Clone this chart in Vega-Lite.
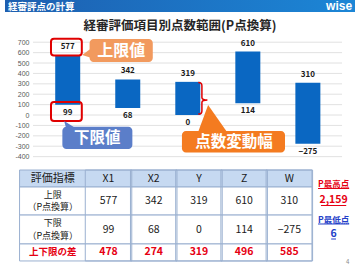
{
  "$schema": "https://vega.github.io/schema/vega-lite/v6.json",
  "width": 360,
  "height": 270,
  "autosize": "none",
  "padding": 0,
  "background": "white",
  "config": {"view": {"stroke": null}, "font": "Noto Sans CJK JP"},
  "datasets": {
    "評点": [
      {"項目": "X1", "番号": 1, "上限": 577, "下限": 99, "差": 478},
      {"項目": "X2", "番号": 2, "上限": 342, "下限": 68, "差": 274},
      {"項目": "Y", "番号": 3, "上限": 319, "下限": 0, "差": 319},
      {"項目": "Z", "番号": 4, "上限": 610, "下限": 114, "差": 496},
      {"項目": "W", "番号": 5, "上限": 310, "下限": -275, "差": 585}
    ],
    "目盛": [
      {"値": -400}, {"値": -300}, {"値": -200}, {"値": -100}, {"値": 0}, {"値": 100},
      {"値": 200}, {"値": 300}, {"値": 400}, {"値": 500}, {"値": 600}, {"値": 700}
    ]
  },
  "data": {"values": [{}]},
  "layer": [
    {
      "data": {"name": "目盛"},
      "mark": {"type": "rule", "color": "#d9d9d9", "strokeWidth": 0.8},
      "encoding": {
        "x": {"datum": 0.49, "scale": {"domain": [-0.0445, 5.785], "nice": false}, "axis": null},
        "x2": {"datum": 5.494},
        "y": {"field": "値", "type": "quantitative", "scale": {"domain": [-1490, 1106], "nice": false},
          "axis": {"values": [-400, -300, -200, -100, 0, 100, 200, 300, 400, 500, 600, 700], "offset": -30, "domain": false, "ticks": false, "grid": false, "labelOverlap": false, "labelFont": "Liberation Sans", "labelFontSize": 7, "labelColor": "#595959", "labelPadding": 1, "title": null, "labelExpr": "datum.value < 0 ? '-' + abs(datum.value) : '' + datum.value"}}
      }
    },
    {
      "layer": [
        {
          "data": {"name": "評点"},
          "mark": {"type": "bar", "width": 25, "color": "#0a67c2"},
          "encoding": {
            "x": {"field": "番号", "type": "quantitative", "scale": {"domain": [-0.0445, 5.785], "nice": false}, "axis": null},
            "y": {"field": "上限", "type": "quantitative", "scale": {"domain": [-1490, 1106], "nice": false}, "axis": null},
            "y2": {"field": "下限"}
          }
        },
        {
          "data": {"name": "評点"},
          "mark": {"type": "text", "dy": -8, "fontSize": 8, "fontWeight": "bold", "color": "#1a1a1a", "baseline": "middle"},
          "encoding": {
            "x": {"field": "番号", "type": "quantitative", "axis": null},
            "y": {"field": "上限", "type": "quantitative", "axis": null},
            "text": {"field": "上限", "type": "quantitative"}
          }
        },
        {
          "data": {"name": "評点"},
          "mark": {"type": "text", "dy": 8, "fontSize": 8, "fontWeight": "bold", "color": "#1a1a1a", "baseline": "middle"},
          "encoding": {
            "x": {"field": "番号", "type": "quantitative", "axis": null},
            "y": {"field": "下限", "type": "quantitative", "axis": null},
            "text": {"field": "下限", "type": "quantitative"}
          }
        },
        {
          "mark": {"type": "rect", "fill": {"gradient": "linear", "x1": 0, "y1": 0, "x2": 1, "y2": 0, "stops": [{"offset": 0, "color": "#1d5fb0"}, {"offset": 1, "color": "#1c86d6"}]}},
          "encoding": {
            "x": {"datum": -0.0445, "axis": null}, "x2": {"datum": 5.785},
            "y": {"datum": 1106, "axis": null}, "y2": {"datum": 990}
          }
        },
        {
          "mark": {"type": "text", "align": "left", "baseline": "middle", "fontSize": 9.5, "fontWeight": "bold", "color": "white"},
          "encoding": {"x": {"datum": 0.004, "axis": null}, "y": {"datum": 1036, "axis": null}, "text": {"value": "経審評点の計算"}}
        },
        {
          "mark": {"type": "text", "align": "right", "baseline": "middle", "fontSize": 12, "fontWeight": "bold", "color": "white", "font": "Liberation Sans"},
          "encoding": {"x": {"datum": 5.7365, "axis": null}, "y": {"datum": 1046, "axis": null}, "text": {"value": "wise"}}
        },
        {
          "mark": {"type": "text", "align": "center", "baseline": "middle", "fontSize": 12.5, "fontWeight": "bold", "color": "#262626"},
          "encoding": {"x": {"datum": 2.87, "axis": null}, "y": {"datum": 855, "axis": null}, "text": {"value": "経審評価項目別点数範囲(P点換算)"}}
        },
        {
          "mark": {"type": "rect", "filled": false, "stroke": "#e00000", "strokeWidth": 2, "cornerRadius": 3},
          "encoding": {"x": {"datum": 0.7215, "axis": null}, "x2": {"datum": 1.2348}, "y": {"datum": 734, "axis": null}, "y2": {"datum": 572}}
        },
        {
          "mark": {"type": "rect", "filled": false, "stroke": "#e00000", "strokeWidth": 2, "cornerRadius": 3},
          "encoding": {"x": {"datum": 0.7215, "axis": null}, "x2": {"datum": 1.2348}, "y": {"datum": 125, "axis": null}, "y2": {"datum": -58}}
        },
        {
          "mark": {"type": "point", "shape": "M -0.9 0.4 L 1 -1 L 1 1 Z", "size": 100, "filled": true, "color": "#f29a5e", "opacity": 1, "strokeWidth": 0},
          "encoding": {"x": {"datum": 1.3157, "axis": null}, "y": {"datum": 596, "axis": null}}
        },
        {
          "mark": {"type": "rect", "fill": "#f29a5e", "cornerRadius": 4},
          "encoding": {"x": {"datum": 1.3643, "axis": null}, "x2": {"datum": 2.4169}, "y": {"datum": 730.7, "axis": null}, "y2": {"datum": 509.6}}
        },
        {
          "mark": {"type": "text", "align": "center", "baseline": "middle", "fontSize": 16, "fontWeight": "bold", "color": "white"},
          "encoding": {"x": {"datum": 1.8906, "axis": null}, "y": {"datum": 615, "axis": null}, "text": {"value": "上限値"}}
        },
        {
          "mark": {"type": "point", "shape": "M -1 -0.7 L -0.6 0.8 L 1.4 0.8 Z", "size": 100, "filled": true, "color": "#5b7ec9", "opacity": 1, "strokeWidth": 0},
          "encoding": {"x": {"datum": 1.0243, "axis": null}, "y": {"datum": -91.3, "axis": null}}
        },
        {
          "mark": {"type": "rect", "fill": "#5b7ec9", "cornerRadius": 4},
          "encoding": {"x": {"datum": 0.9109, "axis": null}, "x2": {"datum": 2.0768}, "y": {"datum": -112.5, "axis": null}, "y2": {"datum": -326.9}}
        },
        {
          "mark": {"type": "text", "align": "center", "baseline": "middle", "fontSize": 15.5, "fontWeight": "bold", "color": "white"},
          "encoding": {"x": {"datum": 1.4939, "axis": null}, "y": {"datum": -221, "axis": null}, "text": {"value": "下限値"}}
        },
        {
          "mark": {"type": "point", "shape": "M -0.33 -1 L 1.07 1 L -1.07 1 Z", "size": 729, "filled": true, "color": "#f47b20", "opacity": 1, "strokeWidth": 0},
          "encoding": {"x": {"datum": 3.4127, "axis": null}, "y": {"datum": -33.65, "axis": null}}
        },
        {
          "mark": {"type": "rect", "fill": "#f47b20", "cornerRadius": 4},
          "encoding": {"x": {"datum": 2.9026, "axis": null}, "x2": {"datum": 4.6191}, "y": {"datum": -153.8, "axis": null}, "y2": {"datum": -360.6}}
        },
        {
          "mark": {"type": "text", "align": "center", "baseline": "middle", "fontSize": 15.5, "fontWeight": "bold", "color": "white"},
          "encoding": {"x": {"datum": 3.769, "axis": null}, "y": {"datum": -259.6, "axis": null}, "text": {"value": "点数変動幅"}}
        },
        {
          "mark": {"type": "point", "shape": "M -0.29 -1 Q -0.06 -1 -0.06 -0.8 L -0.06 -0.05 Q -0.06 0.11 0.29 0.11 Q -0.06 0.11 -0.06 0.27 L -0.06 0.8 Q -0.06 1 -0.29 1", "size": 992, "filled": false, "stroke": "#e00000", "strokeWidth": 1.5, "opacity": 1},
          "encoding": {"x": {"datum": 3.2509, "axis": null}, "y": {"datum": 161, "axis": null}}
        }
      ]
    },
    {
      "layer": [
        {
          "mark": {"type": "rect", "fill": "#c6d9f1", "stroke": "#9ab0d0", "strokeWidth": 1},
          "encoding": {
            "x": {"datum": -0.968, "scale": {"domain": [-1.29, 6.452], "nice": false}, "axis": null}, "x2": {"datum": 5.5},
            "y": {"datum": 0, "scale": {"domain": [-10, 5.882], "nice": false, "reverse": true}, "axis": null}, "y2": {"datum": 1}
          }
        },
        {
          "mark": {"type": "rect", "fill": "white", "stroke": "#9ab0d0", "strokeWidth": 1},
          "encoding": {"x": {"datum": -0.968, "axis": null}, "x2": {"datum": 5.5}, "y": {"datum": 1, "axis": null}, "y2": {"datum": 2.65}}
        },
        {
          "mark": {"type": "rect", "fill": "white", "stroke": "#9ab0d0", "strokeWidth": 1},
          "encoding": {"x": {"datum": -0.968, "axis": null}, "x2": {"datum": 5.5}, "y": {"datum": 2.65, "axis": null}, "y2": {"datum": 4.35}}
        },
        {
          "mark": {"type": "rect", "fill": "white", "stroke": "#9ab0d0", "strokeWidth": 1},
          "encoding": {"x": {"datum": -0.968, "axis": null}, "x2": {"datum": 5.5}, "y": {"datum": 4.35, "axis": null}, "y2": {"datum": 5.35}}
        },
        {
          "data": {"name": "評点"},
          "mark": {"type": "bar", "width": 46.5, "fill": "transparent", "stroke": "#9ab0d0", "strokeWidth": 1},
          "encoding": {"x": {"field": "番号", "type": "quantitative", "axis": null}, "y": {"datum": 0, "axis": null}, "y2": {"datum": 5.35}}
        },
        {
          "mark": {"type": "text", "align": "center", "baseline": "middle", "fontSize": 11, "color": "#1a1a1a"},
          "encoding": {"x": {"datum": -0.234, "axis": null}, "y": {"datum": 0.5, "axis": null}, "text": {"value": "評価指標"}}
        },
        {
          "mark": {"type": "text", "align": "center", "baseline": "middle", "fontSize": 9, "lineHeight": 12, "color": "#1a1a1a"},
          "encoding": {"x": {"datum": -0.234, "axis": null}, "y": {"datum": 1.47, "axis": null}, "text": {"value": ["上限", "（P点換算）"]}}
        },
        {
          "mark": {"type": "text", "align": "center", "baseline": "middle", "fontSize": 9, "lineHeight": 12.5, "color": "#1a1a1a"},
          "encoding": {"x": {"datum": -0.234, "axis": null}, "y": {"datum": 3.12, "axis": null}, "text": {"value": ["下限", "（P点換算）"]}}
        },
        {
          "mark": {"type": "text", "align": "center", "baseline": "middle", "fontSize": 9.5, "fontWeight": "bold", "color": "#e60012"},
          "encoding": {"x": {"datum": -0.234, "axis": null}, "y": {"datum": 4.85, "axis": null}, "text": {"value": "上下限の差"}}
        },
        {
          "data": {"name": "評点"},
          "mark": {"type": "text", "align": "center", "baseline": "middle", "fontSize": 10.5, "color": "#1a1a1a"},
          "encoding": {"x": {"field": "番号", "type": "quantitative", "axis": null}, "y": {"datum": 0.5, "axis": null}, "text": {"field": "項目"}}
        },
        {
          "data": {"name": "評点"},
          "mark": {"type": "text", "align": "center", "baseline": "middle", "fontSize": 10.5, "color": "#1a1a1a"},
          "encoding": {"x": {"field": "番号", "type": "quantitative", "axis": null}, "y": {"datum": 1.825, "axis": null}, "text": {"field": "上限", "type": "quantitative"}}
        },
        {
          "data": {"name": "評点"},
          "mark": {"type": "text", "align": "center", "baseline": "middle", "fontSize": 10.5, "color": "#1a1a1a"},
          "encoding": {"x": {"field": "番号", "type": "quantitative", "axis": null}, "y": {"datum": 3.5, "axis": null}, "text": {"field": "下限", "type": "quantitative"}}
        },
        {
          "data": {"name": "評点"},
          "mark": {"type": "text", "align": "center", "baseline": "middle", "fontSize": 10.5, "fontWeight": "bold", "color": "#e60012"},
          "encoding": {"x": {"field": "番号", "type": "quantitative", "axis": null}, "y": {"datum": 4.85, "axis": null}, "text": {"field": "差", "type": "quantitative"}}
        },
        {
          "mark": {"type": "text", "align": "center", "baseline": "middle", "fontSize": 8.5, "fontWeight": "bold", "color": "#e60012"},
          "encoding": {"x": {"datum": 5.978, "axis": null}, "y": {"datum": 0.824, "axis": null}, "text": {"value": "P最高点"}}
        },
        {
          "mark": {"type": "text", "align": "center", "baseline": "middle", "fontSize": 10.5, "fontWeight": "bold", "color": "#e60012"},
          "encoding": {"x": {"datum": 5.978, "axis": null}, "y": {"datum": 1.765, "axis": null}, "text": {"value": "2,159"}}
        },
        {
          "mark": {"type": "text", "align": "center", "baseline": "middle", "fontSize": 8.5, "fontWeight": "bold", "color": "#2340c8"},
          "encoding": {"x": {"datum": 5.978, "axis": null}, "y": {"datum": 2.941, "axis": null}, "text": {"value": "P最低点"}}
        },
        {
          "mark": {"type": "text", "align": "center", "baseline": "middle", "fontSize": 10.5, "fontWeight": "bold", "color": "#2340c8"},
          "encoding": {"x": {"datum": 5.978, "axis": null}, "y": {"datum": 3.765, "axis": null}, "text": {"value": "6"}}
        },
        {
          "mark": {"type": "rule", "color": "#e60012", "strokeWidth": 1},
          "encoding": {"x": {"datum": 5.634, "axis": null}, "x2": {"datum": 6.323}, "y": {"datum": 1.088, "axis": null}}
        },
        {
          "mark": {"type": "rule", "color": "#e60012", "strokeWidth": 1},
          "encoding": {"x": {"datum": 5.699, "axis": null}, "x2": {"datum": 6.258}, "y": {"datum": 2.088, "axis": null}}
        },
        {
          "mark": {"type": "rule", "color": "#2340c8", "strokeWidth": 1},
          "encoding": {"x": {"datum": 5.634, "axis": null}, "x2": {"datum": 6.323}, "y": {"datum": 3.176, "axis": null}}
        },
        {
          "mark": {"type": "rule", "color": "#2340c8", "strokeWidth": 1},
          "encoding": {"x": {"datum": 5.925, "axis": null}, "x2": {"datum": 6.032}, "y": {"datum": 4.059, "axis": null}}
        },
        {
          "mark": {"type": "text", "align": "center", "baseline": "middle", "fontSize": 6, "color": "#888888"},
          "encoding": {"x": {"datum": 6.29, "axis": null}, "y": {"datum": 5.41, "axis": null}, "text": {"value": "4"}}
        }
      ]
    }
  ],
  "resolve": {"scale": {"x": "independent", "y": "independent"}}
}
